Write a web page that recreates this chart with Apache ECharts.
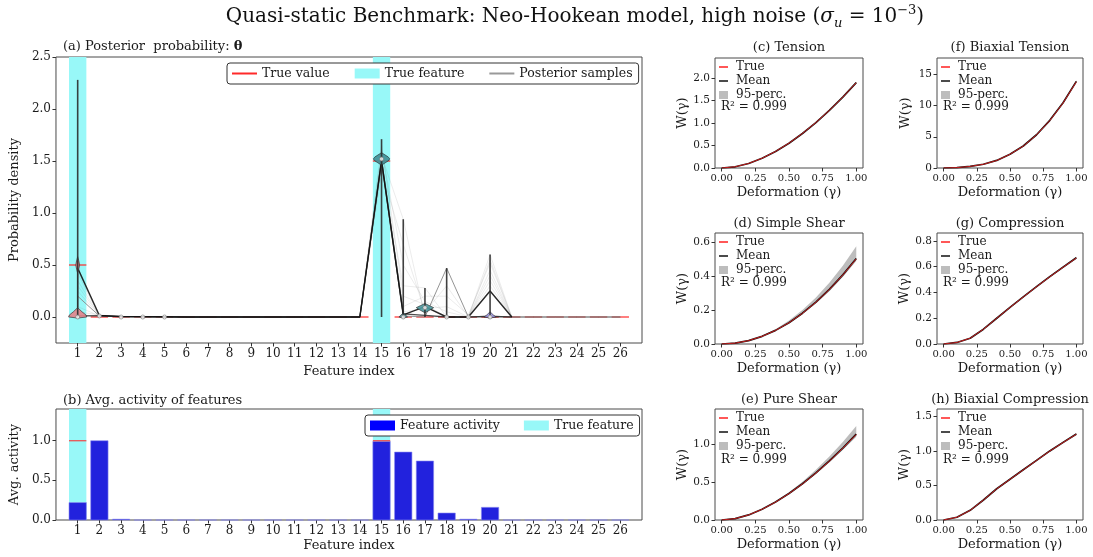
<!DOCTYPE html>
<html><head><meta charset="utf-8">
<script src="https://cdn.jsdelivr.net/npm/echarts@6/dist/echarts.min.js"></script>
<style>html,body{margin:0;padding:0;background:#fff}#c{width:1093px;height:557px}</style>
</head><body><div id="c"></div>
<script>
// ================= DATA =================
const featureIndex = [1,2,3,4,5,6,7,8,9,10,11,12,13,14,15,16,17,18,19,20,21,22,23,24,25,26];
const featureTickLabels = ['1','2','3','4','5','6','7','8','9','10','11','12','13','14','15','16','17','18','19','20','21','22','23','24','25','26'];
const trueTheta = [0.5,0,0,0,0,0,0,0,0,0,0,0,0,0,1.5,0,0,0,0,0,0,0,0,0,0,0];
const trueFeatures = [1, 15];
const trueActivityValue = [1.0, 1.0];
const activity = [0.22,1.00,0.01,0,0,0,0,0,0,0,0,0,0,0,0.99,0.857,0.744,0.088,0.01,0.16,0,0,0,0,0,0];

// posterior sample paths (value per feature 1..26; null = not drawn)
const sampleDarkA = [0.47,0.015,0.006,0.004,0.002,0,0,0,0,0,0,0,0,0,1.50,0.02,0.10,0,0,0.25,0,null,null,null,null,null];
const sampleDarkB = [0.01,0.012,0.004,0.003,0.002,0,0,0,0,0,0,0,0,0,1.51,0.03,0.015,0,0,0.005,0,null,null,null,null,null];
const sampleMid   = [0.20,0.010,0.004,0,0,0,0,0,0,0,0,0,0,0,1.48,0.01,0,0.47,0,0.01,0,0,0,0,0,0];
const sampleFaint1 = [0.35,0.010,0,0,0,0,0,0,0,0,0,0,0,0,1.55,0.94,0,0,0,0.60,0,0,0,0,0,0];
const sampleFaint2 = [0.10,0.010,0,0,0,0,0,0,0,0,0,0,0,0,1.45,0.30,0.28,0,0,0.45,0,0,0,0,0,0];
const sampleFaint3 = [0.25,0.012,0,0,0,0,0,0,0,0,0,0,0,0,1.60,0.50,0.15,0.05,0,0.35,0,0,0,0,0,0];
const sampleFaint4 = [0.42,0.008,0,0,0,0,0,0,0,0,0,0,0,0,1.52,0.10,0.20,0.20,0.02,0.52,0,0,0,0,0,0];
const sampleFaint5 = [0.05,0.020,0,0,0,0,0,0,0,0,0,0,0,0,1.40,0.70,0.05,0.30,0,0.30,0,0,0,0,0,0];
const sampleFaint6 = [0.45,0.010,0,0,0,0,0,0,0,0,0,0,0,0,1.65,0.20,0.12,0,0,0.55,0,0,0,0,0,0];
const sampleFaint7 = [0.30,0.015,0,0,0,0,0,0,0,0,0,0,0,0,1.50,0.05,0.08,0.10,0,0.40,0,0,0,0,0,0];

// violins: feature, density profile (levels / half widths in feature units)
const violinFeatures = [1, 15, 16, 17, 20];
const violinLevels1  = [-0.01, 0.0, 0.02, 0.05, 0.09, 0.42, 0.46, 0.50, 0.54, 0.58];
const violinWidths1  = [0, 0.42, 0.38, 0.20, 0, 0, 0.05, 0.09, 0.05, 0];
const violinLevels15 = [1.46, 1.50, 1.52, 1.54, 1.58];
const violinWidths15 = [0, 0.30, 0.38, 0.30, 0];
const violinLevels16 = [-0.01, 0.0, 0.02, 0.04];
const violinWidths16 = [0, 0.20, 0.10, 0];
const violinLevels17 = [0.04, 0.07, 0.09, 0.11, 0.13];
const violinWidths17 = [0, 0.25, 0.40, 0.20, 0];
const violinLevels20 = [-0.01, 0.0, 0.02, 0.05];
const violinWidths20 = [0, 0.28, 0.15, 0];
// extrema bars
const extremaFeatures = [1, 2, 15, 16, 17, 18, 20];
const extremaMin = [0, 0, 0, 0, 0, 0, 0];
const extremaMax = [2.28, 0.02, 1.71, 0.94, 0.28, 0.47, 0.60];
// medians
const medianFeatures = [1, 2, 3, 4, 5, 15, 16, 17, 18, 19, 20];
const medianValues   = [0, 0.01, 0, 0, 0, 1.52, 0, 0.09, 0, 0, 0];

// small panels
const gamma = [0, 0.1, 0.2, 0.3, 0.4, 0.5, 0.6, 0.7, 0.8, 0.9, 1.0];
const gammaTicks = [0, 0.25, 0.5, 0.75, 1.0];
const trueTension = [0, 0.027, 0.101, 0.217, 0.369, 0.554, 0.770, 1.013, 1.284, 1.579, 1.900];
const meanTension = [0, 0.027, 0.100, 0.216, 0.368, 0.552, 0.768, 1.011, 1.282, 1.578, 1.902];
const loTension   = [0, 0.026, 0.099, 0.214, 0.365, 0.548, 0.763, 1.004, 1.274, 1.568, 1.890];
const upTension   = [0, 0.028, 0.102, 0.219, 0.372, 0.557, 0.774, 1.018, 1.291, 1.588, 1.914];
const trueShear = [0, 0.005, 0.020, 0.045, 0.080, 0.125, 0.180, 0.245, 0.320, 0.405, 0.500];
const meanShear = [0, 0.005, 0.020, 0.045, 0.080, 0.125, 0.181, 0.246, 0.321, 0.406, 0.502];
const loShear   = [0, 0.005, 0.020, 0.044, 0.078, 0.122, 0.175, 0.238, 0.310, 0.393, 0.488];
const upShear   = [0, 0.005, 0.021, 0.048, 0.087, 0.138, 0.200, 0.273, 0.360, 0.460, 0.574];
const truePure = [0, 0.018, 0.067, 0.141, 0.236, 0.349, 0.477, 0.620, 0.777, 0.947, 1.130];
const meanPure = [0, 0.018, 0.067, 0.141, 0.237, 0.350, 0.479, 0.622, 0.780, 0.950, 1.134];
const loPure   = [0, 0.018, 0.066, 0.139, 0.232, 0.343, 0.468, 0.607, 0.760, 0.925, 1.100];
const upPure   = [0, 0.018, 0.068, 0.145, 0.245, 0.366, 0.506, 0.663, 0.840, 1.030, 1.240];
const trueBiaxT = [0, 0.06, 0.25, 0.60, 1.20, 2.20, 3.50, 5.30, 7.60, 10.40, 13.80];
const meanBiaxT = [0, 0.06, 0.25, 0.60, 1.21, 2.21, 3.52, 5.32, 7.63, 10.44, 13.86];
const loBiaxT   = [0, 0.06, 0.24, 0.59, 1.18, 2.17, 3.46, 5.24, 7.52, 10.30, 13.68];
const upBiaxT   = [0, 0.06, 0.26, 0.61, 1.23, 2.25, 3.57, 5.39, 7.73, 10.58, 14.04];
const trueComp = [0, 0.012, 0.045, 0.115, 0.200, 0.284, 0.365, 0.445, 0.522, 0.596, 0.668];
const meanComp = [0, 0.012, 0.045, 0.115, 0.200, 0.285, 0.366, 0.446, 0.523, 0.597, 0.670];
const loComp   = [0, 0.011, 0.044, 0.113, 0.197, 0.281, 0.361, 0.440, 0.516, 0.589, 0.660];
const upComp   = [0, 0.013, 0.046, 0.117, 0.203, 0.289, 0.371, 0.452, 0.530, 0.605, 0.678];
const trueBiaxC = [0, 0.04, 0.14, 0.29, 0.452, 0.590, 0.727, 0.864, 1.000, 1.124, 1.244];
const meanBiaxC = [0, 0.04, 0.14, 0.29, 0.453, 0.591, 0.728, 0.865, 1.002, 1.126, 1.246];
const loBiaxC   = [0, 0.04, 0.14, 0.29, 0.447, 0.583, 0.718, 0.853, 0.988, 1.111, 1.230];
const upBiaxC   = [0, 0.04, 0.14, 0.29, 0.458, 0.598, 0.738, 0.877, 1.015, 1.140, 1.260];
const r2Text = 'R\u00B2 = 0.999';

// ================= CHART =================
const F = 'DejaVu Serif';
const TXT = '#1a1a1a';
const chart = echarts.init(document.getElementById('c'), null, {renderer: 'canvas', width: 1093, height: 557});

const grids = [
  {left: 51, top: 57, width: 591, height: 286},   // a
  {left: 51, top: 409, width: 591, height: 111},  // b
  {left: 715, top: 58, width: 148, height: 110},  // c
  {left: 715, top: 233, width: 148, height: 111}, // d
  {left: 715, top: 409, width: 148, height: 111}, // e
  {left: 937, top: 58, width: 146, height: 110},  // f
  {left: 937, top: 233, width: 146, height: 111}, // g
  {left: 937, top: 409, width: 146, height: 111}  // h
].map(g => Object.assign({show: true, borderColor: '#4a4a4a', borderWidth: 1, backgroundColor: 'transparent', containLabel: false}, g));

function axis(o) {
  const base = {
    axisLine: {show: false, onZero: false}, splitLine: {show: false}, minorTick: {show: false}, minorSplitLine: {show: false},
    axisTick: {show: true, length: 3.5, inside: false, lineStyle: {color: '#333', width: 1}},
    axisLabel: {fontFamily: F, fontSize: 12, color: TXT, margin: 5},
    nameLocation: 'middle',
    nameTextStyle: {fontFamily: F, fontSize: 13, color: TXT}
  };
  const r = Object.assign({}, base, o);
  r.axisTick = Object.assign({}, base.axisTick, o.axisTick || {});
  r.axisLabel = Object.assign({}, base.axisLabel, o.axisLabel || {});
  r.nameTextStyle = Object.assign({}, base.nameTextStyle, o.nameTextStyle || {});
  return r;
}

const xAxes = [], yAxes = [];
// (a)
xAxes.push(axis({type: 'value', gridIndex: 0, min: 0, max: 27, name: 'Feature index', nameGap: 19,
  axisTick: {customValues: featureIndex}, axisLabel: {customValues: featureIndex, formatter: v => featureTickLabels[v - 1]}}));
yAxes.push(axis({type: 'value', gridIndex: 0, min: -0.25, max: 2.5, name: 'Probability density', nameGap: 22,
  axisTick: {customValues: [0, 0.5, 1, 1.5, 2, 2.5]}, axisLabel: {customValues: [0, 0.5, 1, 1.5, 2, 2.5], formatter: v => v.toFixed(1)}}));
// (b)
xAxes.push(axis({type: 'value', gridIndex: 1, min: 0, max: 27, name: 'Feature index', nameGap: 19,
  axisTick: {customValues: featureIndex}, axisLabel: {customValues: featureIndex, formatter: v => featureTickLabels[v - 1]}}));
yAxes.push(axis({type: 'value', gridIndex: 1, min: 0, max: 1.4, name: 'Avg. activity', nameGap: 24,
  axisTick: {customValues: [0, 0.5, 1.0]}, axisLabel: {customValues: [0, 0.5, 1.0], formatter: v => v.toFixed(1)}}));

const panels = [
  {g: 2, title: '(c) Tension', t: trueTension, m: meanTension, lo: loTension, up: upTension, ymax: 2.45, ticks: [0, 0.5, 1, 1.5, 2], dec: 1, gap: 20},
  {g: 3, title: '(d) Simple Shear', t: trueShear, m: meanShear, lo: loShear, up: upShear, ymax: 0.652, ticks: [0, 0.2, 0.4, 0.6], dec: 1, gap: 20},
  {g: 4, title: '(e) Pure Shear', t: truePure, m: meanPure, lo: loPure, up: upPure, ymax: 1.466, ticks: [0, 0.5, 1.0], dec: 1, gap: 20},
  {g: 5, title: '(f) Biaxial Tension', t: trueBiaxT, m: meanBiaxT, lo: loBiaxT, up: upBiaxT, ymax: 17.6, ticks: [0, 5, 10, 15], dec: 0, gap: 25},
  {g: 6, title: '(g) Compression', t: trueComp, m: meanComp, lo: loComp, up: upComp, ymax: 0.862, ticks: [0, 0.2, 0.4, 0.6, 0.8], dec: 1, gap: 25},
  {g: 7, title: '(h) Biaxial Compression', t: trueBiaxC, m: meanBiaxC, lo: loBiaxC, up: upBiaxC, ymax: 1.61, ticks: [0, 0.5, 1.0, 1.5], dec: 1, gap: 25}
];
panels.forEach(p => {
  xAxes.push(axis({type: 'value', gridIndex: p.g, min: -0.05, max: 1.05, name: 'Deformation (\u03B3)', nameGap: 18,
    axisTick: {customValues: gammaTicks}, axisLabel: {customValues: gammaTicks, fontSize: 10, formatter: v => v.toFixed(2)}}));
  yAxes.push(axis({type: 'value', gridIndex: p.g, min: 0, max: p.ymax, name: 'W(\u03B3)', nameGap: p.gap,
    axisTick: {customValues: p.ticks}, axisLabel: {customValues: p.ticks, fontSize: 10.5, formatter: v => v.toFixed(p.dec)}}));
});

const series = [];
// ---- (a) ----
const bandRender = (params, api) => {
  const cs = params.coordSys;
  const x = api.value(0);
  const p0 = api.coord([x - 0.4, 0]), p1 = api.coord([x + 0.4, 0]);
  return {type: 'rect', shape: {x: p0[0], y: cs.y, width: p1[0] - p0[0], height: cs.height}, style: {fill: '#98f8f8'}};
};
series.push({type: 'custom', name: 'True feature', xAxisIndex: 0, yAxisIndex: 0, z: 1, clip: true,
  itemStyle: {color: '#98f8f8'}, renderItem: bandRender, data: trueFeatures.map(f => [f])});
series.push({type: 'custom', name: 'True value', xAxisIndex: 0, yAxisIndex: 0, z: 2,
  itemStyle: {color: '#ff2a2a'},
  renderItem: (params, api) => {
    const x = api.value(0), v = api.value(1);
    const a = api.coord([x - 0.4, v]), b = api.coord([x + 0.4, v]);
    return {type: 'line', shape: {x1: a[0], y1: a[1], x2: b[0], y2: b[1]}, style: {stroke: '#ff2a2a', lineWidth: 1.6, opacity: 0.75}};
  },
  data: featureIndex.map((f, i) => [f, trueTheta[i]])});
const samples = [
  [sampleMid, '#888888', 0.9, 1],
  [sampleFaint1, '#666666', 0.12, 1], [sampleFaint2, '#666666', 0.12, 1], [sampleFaint3, '#666666', 0.12, 1],
  [sampleFaint4, '#666666', 0.12, 1], [sampleFaint5, '#666666', 0.12, 1], [sampleFaint6, '#666666', 0.12, 1],
  [sampleFaint7, '#666666', 0.12, 1],
  [sampleDarkB, '#222222', 0.8, 1.3], [sampleDarkA, '#111111', 0.9, 1.4]
];
samples.forEach(s => {
  series.push({type: 'line', name: 'Posterior samples', xAxisIndex: 0, yAxisIndex: 0, z: 3, symbol: 'none', silent: true,
    connectNulls: false, itemStyle: {color: '#999999'}, lineStyle: {color: s[1], opacity: s[2], width: s[3]},
    data: featureIndex.map((f, i) => [f, s[0][i] === null ? '-' : s[0][i]])});
});
const vLevels = [violinLevels1, violinLevels15, violinLevels16, violinLevels17, violinLevels20];
const vWidths = [violinWidths1, violinWidths15, violinWidths16, violinWidths17, violinWidths20];
const vColors = ['#e2838b', '#3f8e96', '#3f8e96', '#4b9aa0', '#9b93e6'];
series.push({type: 'custom', name: 'violins', xAxisIndex: 0, yAxisIndex: 0, z: 4, silent: true,
  renderItem: (params, api) => {
    const f = api.value(0), k = api.value(1);
    const L = vLevels[k], W = vWidths[k];
    const right = L.map((y, j) => api.coord([f + W[j], y]));
    const left = L.map((y, j) => api.coord([f - W[j], y])).reverse();
    return {type: 'polygon', shape: {points: right.concat(left)}, style: {fill: vColors[k], stroke: '#2a2a2a', lineWidth: 0.7, opacity: 0.9}};
  },
  data: violinFeatures.map((f, k) => [f, k])});
series.push({type: 'custom', name: 'extrema', xAxisIndex: 0, yAxisIndex: 0, z: 5, silent: true,
  renderItem: (params, api) => {
    const x = api.value(0);
    const a = api.coord([x, api.value(1)]), b = api.coord([x, api.value(2)]);
    return {type: 'line', shape: {x1: a[0], y1: a[1], x2: b[0], y2: b[1]}, style: {stroke: '#2b2b2b', lineWidth: 1.6, opacity: 0.9}};
  },
  data: extremaFeatures.map((f, i) => [f, extremaMin[i], extremaMax[i]])});
series.push({type: 'scatter', name: 'median', xAxisIndex: 0, yAxisIndex: 0, z: 6, silent: true, symbol: 'circle', symbolSize: 4,
  itemStyle: {color: '#ffffff', borderColor: '#777777', borderWidth: 0.8},
  data: medianFeatures.map((f, i) => [f, medianValues[i]])});

// ---- (b) ----
series.push({type: 'custom', name: 'True feature', xAxisIndex: 1, yAxisIndex: 1, z: 1, clip: true,
  itemStyle: {color: '#98f8f8'}, renderItem: bandRender, data: trueFeatures.map(f => [f])});
series.push({type: 'custom', name: 'Feature activity', xAxisIndex: 1, yAxisIndex: 1, z: 2,
  itemStyle: {color: '#0000ff'},
  renderItem: (params, api) => {
    const x = api.value(0), v = api.value(1);
    const p0 = api.coord([x - 0.4, 0]), p1 = api.coord([x + 0.4, v]);
    return {type: 'rect', shape: {x: p0[0], y: p1[1], width: p1[0] - p0[0], height: p0[1] - p1[1]}, style: {fill: '#2222dd', stroke: '#8a8af0', lineWidth: 0.6}};
  },
  data: featureIndex.map((f, i) => [f, activity[i]])});
series.push({type: 'custom', name: 'true activity', xAxisIndex: 1, yAxisIndex: 1, z: 3, silent: true,
  renderItem: (params, api) => {
    const x = api.value(0), v = api.value(1);
    const a = api.coord([x - 0.4, v]), b = api.coord([x + 0.4, v]);
    return {type: 'line', shape: {x1: a[0], y1: a[1], x2: b[0], y2: b[1]}, style: {stroke: '#ff2a2a', lineWidth: 1.3, opacity: 0.8}};
  },
  data: trueFeatures.map((f, i) => [f, trueActivityValue[i]])});

// ---- small panels ----
panels.forEach((p, k) => {
  const ai = p.g;
  series.push({type: 'custom', name: '95-perc.', xAxisIndex: ai, yAxisIndex: ai, z: 2, silent: true, clip: true,
    itemStyle: {color: '#bdbdbd'},
    renderItem: (params, api) => {
      if (params.dataIndex !== 0) return null;
      const upper = gamma.map((g, i) => api.coord([g, p.up[i]]));
      const lower = gamma.map((g, i) => api.coord([g, p.lo[i]])).reverse();
      return {type: 'polygon', shape: {points: upper.concat(lower)}, style: {fill: '#bdbdbd'}};
    },
    data: gamma.map((g, i) => [g, p.lo[i], p.up[i]])});
  series.push({type: 'line', name: 'Mean', xAxisIndex: ai, yAxisIndex: ai, symbol: 'none', silent: true, z: 3,
    itemStyle: {color: '#111111'}, lineStyle: {color: '#111111', width: 1.7, join: 'round'},
    data: gamma.map((g, i) => [g, p.m[i]])});
  series.push({type: 'line', name: 'True', xAxisIndex: ai, yAxisIndex: ai, symbol: 'none', silent: true, z: 4,
    itemStyle: {color: '#ff2020'}, lineStyle: {color: '#ff2020', width: 0.9, opacity: 0.85},
    data: gamma.map((g, i) => [g, p.t[i]])});
});

// ---- legends ----
const lineIcon = 'path://M0,0L0.01,0L0,0.01Z M0,4H25V6H0Z M25,10L24.99,10L25,9.99Z';
const shortLineIcon = 'path://M0,0L0.01,0L0,0.01Z M0,3.2H9V4.8H0Z M9,8L8.99,8L9,7.99Z';
const legends = [
  {left: 227, top: 63, itemWidth: 25, itemHeight: 10, itemGap: 25, padding: [4, 6, 4, 5],
   borderColor: '#333', borderWidth: 1, borderRadius: 3, backgroundColor: '#fff',
   textStyle: {fontFamily: F, fontSize: 12.5, color: TXT},
   data: [{name: 'True value', icon: lineIcon, itemStyle: {color: '#ff2a2a'}},
          {name: 'True feature', icon: 'rect', itemStyle: {color: '#98f8f8'}},
          {name: 'Posterior samples', icon: lineIcon, itemStyle: {color: '#999999'}}]},
  {left: 365, top: 415, itemWidth: 25, itemHeight: 10, itemGap: 24, padding: [4, 6, 4, 5],
   borderColor: '#333', borderWidth: 1, borderRadius: 3, backgroundColor: '#fff',
   textStyle: {fontFamily: F, fontSize: 12.5, color: TXT},
   data: [{name: 'Feature activity', icon: 'rect', itemStyle: {color: '#0000ff'}},
          {name: 'True feature', icon: 'rect', itemStyle: {color: '#98f8f8'}}]}
];
const smallLegendPos = [[719, 61], [719, 236], [719, 412], [941, 61], [941, 236], [941, 412]];
smallLegendPos.forEach(pos => {
  legends.push({left: pos[0], top: pos[1], orient: 'vertical', itemWidth: 9, itemHeight: 8, itemGap: 2, padding: 0,
    textStyle: {fontFamily: F, fontSize: 12, color: TXT, padding: [0, 0, 0, 3], lineHeight: 11},
    data: [{name: 'True', icon: shortLineIcon, itemStyle: {color: '#ff2020'}},
           {name: 'Mean', icon: shortLineIcon, itemStyle: {color: '#111111'}},
           {name: '95-perc.', icon: 'rect', itemStyle: {color: '#bdbdbd'}}]});
});
legends.forEach(l => { l.selectedMode = false; });

// ---- texts ----
const graphics = [];
graphics.push({type: 'text', x: 575, y: 17, style: {
  text: '{t|Quasi-static Benchmark: Neo-Hookean model, high noise (}{i|\u03C3}{s|u}{t| = 10}{p|\u22123}{t|)}',
  align: 'center', verticalAlign: 'middle',
  rich: {
    t: {fontFamily: F, fontSize: 20, fill: '#111', lineHeight: 26, verticalAlign: 'middle'},
    i: {fontFamily: F, fontSize: 20, fontStyle: 'italic', fill: '#111', lineHeight: 26, verticalAlign: 'middle'},
    s: {fontFamily: F, fontSize: 13, fontStyle: 'italic', fill: '#111', lineHeight: 14, verticalAlign: 'bottom'},
    p: {fontFamily: F, fontSize: 13, fill: '#111', lineHeight: 14, verticalAlign: 'top'}
  }}});
graphics.push({type: 'text', x: 63, y: 47, style: {text: '{t|(a) Posterior  probability: }{b|\u03B8}', verticalAlign: 'middle',
  rich: {t: {fontFamily: F, fontSize: 13, fill: TXT}, b: {fontFamily: F, fontSize: 13, fontWeight: 'bold', fill: TXT}}}});
graphics.push({type: 'text', x: 63, y: 401, style: {text: '(b) Avg. activity of features', verticalAlign: 'middle', fontFamily: F, fontSize: 13, fill: TXT}});
const titleY = [48, 224, 400, 48, 224, 400];
const r2Pos = [[721, 107], [721, 283], [721, 460], [943, 107], [943, 283], [943, 460]];
panels.forEach((p, k) => {
  const g = grids[p.g];
  graphics.push({type: 'text', x: g.left + g.width / 2, y: titleY[k], style: {text: p.title, align: 'center', verticalAlign: 'middle', fontFamily: F, fontSize: 13, fill: TXT}});
  graphics.push({type: 'text', x: r2Pos[k][0], y: r2Pos[k][1], style: {text: r2Text, align: 'left', verticalAlign: 'middle', fontFamily: F, fontSize: 12, fill: TXT}});
});

chart.setOption({
  animation: false,
  backgroundColor: '#ffffff',
  grid: grids,
  xAxis: xAxes,
  yAxis: yAxes,
  legend: legends,
  series: series,
  graphic: graphics
});
</script></body></html>
